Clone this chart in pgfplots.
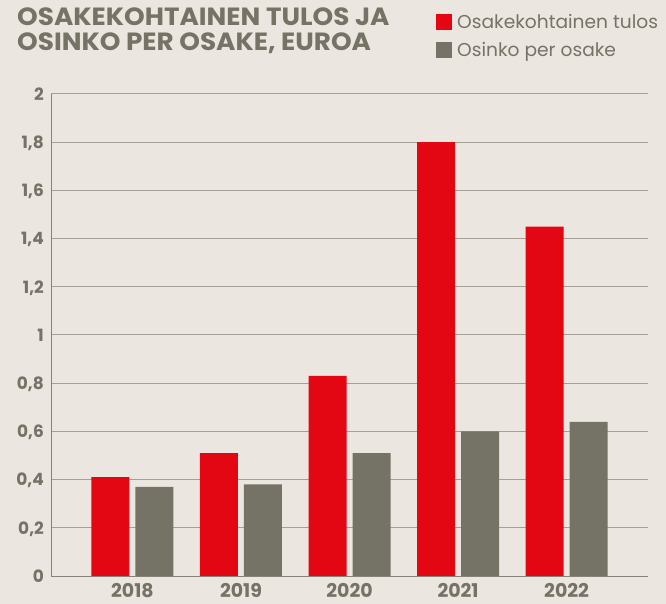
\documentclass[border=0pt]{standalone}
\usepackage{fontspec}
\setmainfont{Poppins}
\newfontfamily\titlefont{Poppins}[FakeStretch=1.055]
\usepackage{pgfplots}
\pgfplotsset{compat=1.18}
\definecolor{bg}{RGB}{235,230,224}
\definecolor{eps}{RGB}{227,6,19}
\definecolor{div}{RGB}{117,114,102}
\definecolor{txt}{RGB}{117,114,102}
\definecolor{gridc}{RGB}{165,160,150}
\definecolor{axc}{RGB}{135,131,121}
\begin{document}
\begin{tikzpicture}[x=1bp,y=1bp]
\fill[bg] (0,0) rectangle (666,604);
\begin{axis}[
  at={(51bp,28bp)}, anchor=south west,
  scale only axis, width=597bp, height=482bp,
  ybar, bar width=38bp,
  xmin=-0.75, xmax=4.75, ymin=0, ymax=2,
  xtick={0,1,2,3,4}, xticklabels={2018,2019,2020,2021,2022},
  ytick={0,0.2,0.4,0.6,0.8,1,1.2,1.4,1.6,1.8,2},
  axis lines*=left,
  axis line style={axc, line width=1pt},
  ymajorgrids, grid style={gridc, line width=1pt},
  major tick length=0pt,
  /pgf/number format/assume math mode=true,
  /pgf/number format/use comma,
  /pgf/number format/fixed,
  yticklabel style={font=\bfseries\fontsize{17}{17}\selectfont, text=txt, inner sep=0pt, text height=12.5bp, text depth=0bp, anchor=east, xshift=-7bp},
  xticklabel style={font=\bfseries\fontsize{19}{19}\selectfont, text=txt, inner sep=0pt, text height=14bp, text depth=0bp, anchor=north, yshift=-7bp},
  legend image code/.code={\fill[#1] (0bp,-8bp) rectangle (16bp,8bp); \path (19bp,0bp);},
  legend style={at={(0.6449,1.1695)}, anchor=north west, draw=none, fill=none,
    font=\fontsize{18.7}{18.7}\selectfont, text=txt, row sep=8.4bp,
    inner sep=0pt, cells={anchor=west, inner sep=0pt, text height=14bp, text depth=0bp}},
]
\addplot[fill=eps, draw=none, bar shift=-22bp] coordinates {(0,0.41) (1,0.51) (2,0.83) (3,1.80) (4,1.45)};
\addlegendentry{Osakekohtainen tulos}
\addplot[fill=div, draw=none, bar shift=22bp] coordinates {(0,0.37) (1,0.38) (2,0.51) (3,0.60) (4,0.64)};
\addlegendentry{Osinko per osake}
\end{axis}
\node[anchor=north west, align=left, text=txt, font=\titlefont\bfseries\fontsize{25}{25}\selectfont, inner sep=0pt] at (17,596) {OSAKEKOHTAINEN TULOS JA\\OSINKO PER OSAKE, EUROA};
\pgfresetboundingbox
\useasboundingbox (0,0) rectangle (666,604);
\end{tikzpicture}
\end{document}
